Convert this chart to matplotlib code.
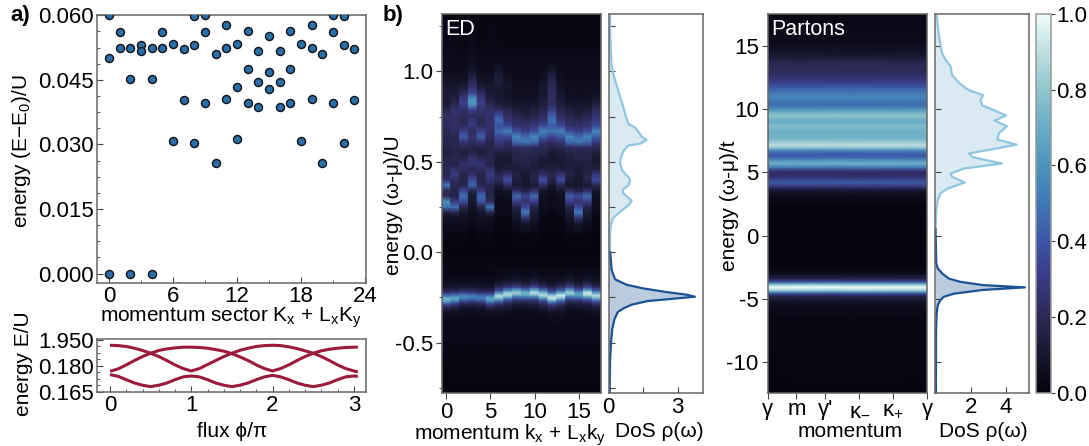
import numpy as np
import matplotlib
matplotlib.use("Agg")
import matplotlib.pyplot as plt
from matplotlib.colors import LinearSegmentedColormap, Normalize
from matplotlib.cm import ScalarMappable
from matplotlib.ticker import MultipleLocator, FixedLocator, FixedFormatter, NullFormatter

plt.rcParams['font.family'] = ['Liberation Sans', 'DejaVu Sans']
plt.rcParams['mathtext.fontset'] = 'custom'
plt.rcParams['mathtext.rm'] = 'Liberation Sans'
plt.rcParams['mathtext.default'] = 'rm'
plt.rcParams['axes.unicode_minus'] = False

# ---------- panel a: low-energy spectrum ----------
sector = [0, 0, 0, 1, 1, 2, 2, 2, 3, 3, 4, 4, 4, 5, 5, 6, 6, 7, 7, 8, 8, 8, 9, 9, 9,
          10, 10, 11, 11, 11, 12, 12, 12, 13, 13, 13, 14, 14, 14, 15, 15, 15,
          16, 16, 16, 17, 17, 17, 18, 18, 19, 19, 19, 20, 20, 21, 21, 21, 22, 22, 22, 23, 23]
gap_energy = [.0600, .0501, 0, .0561, .0525, .0525, .0451, -.0001, .0531, .0516, .0525, .0451, -.0001,
              .0561, .0525, .0533, .0309, .0522, .0404, .0598, .0530, .0303, .0600, .0561, .0396,
              .0510, .0257, .0577, .0523, .0406, .0534, .0434, .0312, .0564, .0475, .0396,
              .0516, .0444, .0386, .0553, .0468, .0428, .0516, .0444, .0386, .0564, .0475, .0396,
              .0533, .0309, .0577, .0523, .0406, .0510, .0257, .0600, .0561, .0396, .0598, .0530, .0303,
              .0522, .0404]

# ---------- panel a: flux spectrum ----------
flux = [0, .1, .2, .3, .4, .5, .6, .7, .8, .9, 1.0, 1.1, 1.2, 1.3, 1.4, 1.5, 1.6, 1.7, 1.8, 1.9,
        2.0, 2.1, 2.2, 2.3, 2.4, 2.5, 2.6, 2.7, 2.8, 2.9, 3.0, 3.05]
band_a = [.1917, .1915, .1910, .1900, .1887, .1871, .1852, .1829, .1804, .1783, .1769, .1783, .1806, .1829,
          .1852, .1871, .1888, .1900, .1910, .1915, .1917, .1915, .1908, .1898, .1885, .1871, .1852, .1829,
          .1804, .1783, .1769, .1764]
band_b = [.1767, .1781, .1804, .1829, .1852, .1871, .1887, .1896, .1902, .1906, .1906, .1904, .1900, .1892,
          .1883, .1869, .1850, .1829, .1804, .1783, .1769, .1783, .1804, .1829, .1852, .1871, .1885, .1894,
          .1900, .1904, .1906, .1906]
band_c = [.1748, .1738, .1719, .1700, .1687, .1679, .1687, .1700, .1719, .1735, .1740, .1735, .1719, .1700,
          .1687, .1679, .1687, .1700, .1719, .1735, .1744, .1735, .1719, .1700, .1687, .1679, .1687, .1700,
          .1719, .1735, .1740, .1738]
flux_ytick_values = [.165, .180, .195]
flux_ytick_labels = ['0.165', '0.180', '1.950']

# ---------- panel b: ED spectral function (percent of max), one row per energy ----------
ed_energy = [-.78, -.40, -.34, -.32, -.30, -.285, -.27, -.255, -.24, -.225, -.21, -.195, -.18, -.16, -.13, -.08,
             0.0, .10, .16, .19, .22, .25, .28, .31, .34, .37, .40, .43, .46, .49, .52, .55, .58, .61, .64, .67,
             .70, .73, .76, .79, .82, .85, .88, .92, .96, 1.0, 1.05, 1.15, 1.32]
ed_intensity = [
    [1, 1, 1, 1, 1, 1, 1, 1, 1, 1, 1, 1, 1, 1, 1, 1, 1, 1],
    [3, 3, 3, 3, 3, 3, 3, 3, 3, 3, 3, 3, 3, 3, 3, 3, 3, 3],
    [6, 6, 5, 5, 5, 6, 6, 5, 4, 4, 4, 5, 7, 6, 4, 4, 5, 5],
    [11, 9, 7, 6, 7, 10, 9, 8, 6, 6, 6, 8, 11, 10, 6, 6, 8, 9],
    [23, 18, 12, 11, 13, 20, 16, 13, 9, 9, 10, 14, 22, 16, 9, 10, 11, 15],
    [40, 30, 19, 18, 20, 34, 26, 19, 14, 14, 14, 21, 35, 25, 14, 15, 17, 23],
    [66, 52, 34, 31, 36, 57, 45, 30, 22, 22, 23, 33, 62, 43, 22, 23, 28, 41],
    [73, 70, 54, 50, 53, 69, 75, 52, 37, 38, 39, 59, 92, 72, 37, 41, 48, 68],
    [49, 55, 57, 52, 48, 50, 89, 83, 63, 63, 67, 87, 84, 95, 63, 64, 80, 90],
    [28, 32, 37, 34, 30, 29, 62, 85, 85, 74, 90, 79, 51, 72, 85, 66, 94, 68],
    [17, 19, 22, 20, 17, 18, 36, 54, 67, 52, 71, 49, 29, 43, 67, 42, 66, 41],
    [11, 12, 13, 12, 11, 11, 22, 32, 39, 30, 41, 28, 19, 25, 39, 25, 38, 23],
    [8, 8, 8, 8, 7, 7, 14, 18, 22, 17, 23, 16, 11, 15, 22, 14, 22, 14],
    [5, 5, 5, 5, 5, 5, 8, 10, 12, 10, 13, 9, 7, 9, 12, 8, 12, 9],
    [3, 3, 3, 3, 3, 3, 4, 5, 6, 5, 6, 5, 4, 5, 6, 4, 6, 5],
    [2, 2, 2, 2, 2, 2, 2, 2, 2, 2, 2, 2, 2, 2, 2, 2, 2, 2],
    [1, 1, 1, 1, 1, 1, 1, 1, 1, 1, 1, 1, 1, 1, 1, 1, 1, 1],
    [2, 2, 2, 1, 2, 2, 1, 1, 2, 2, 2, 1, 1, 1, 2, 2, 2, 1],
    [5, 5, 5, 4, 5, 5, 2, 2, 6, 10, 6, 2, 2, 2, 6, 10, 6, 2],
    [7, 7, 6, 5, 6, 7, 2, 2, 10, 24, 10, 2, 2, 2, 10, 26, 10, 2],
    [14, 17, 10, 6, 10, 17, 4, 4, 12, 50, 12, 4, 2, 4, 12, 50, 12, 4],
    [48, 48, 18, 8, 18, 50, 4, 4, 17, 36, 17, 5, 4, 5, 17, 36, 17, 5],
    [60, 30, 36, 10, 38, 22, 5, 5, 30, 26, 30, 6, 5, 6, 30, 26, 31, 6],
    [22, 18, 48, 12, 46, 17, 5, 6, 46, 34, 46, 6, 5, 6, 43, 36, 46, 6],
    [19, 17, 34, 17, 30, 17, 7, 10, 24, 17, 24, 10, 6, 10, 22, 17, 24, 10],
    [50, 19, 18, 43, 19, 18, 12, 22, 12, 10, 12, 22, 10, 19, 10, 10, 12, 19],
    [26, 22, 17, 36, 17, 26, 22, 38, 14, 10, 17, 38, 17, 36, 14, 10, 17, 36],
    [17, 29, 17, 24, 17, 29, 19, 26, 17, 12, 17, 24, 19, 26, 17, 12, 17, 29],
    [19, 24, 22, 19, 22, 24, 12, 14, 14, 14, 14, 14, 14, 14, 14, 12, 14, 14],
    [18, 17, 24, 26, 26, 17, 12, 12, 14, 17, 14, 12, 12, 12, 14, 14, 14, 12],
    [18, 18, 18, 26, 19, 18, 12, 12, 17, 17, 17, 12, 10, 12, 14, 17, 17, 12],
    [14, 17, 14, 17, 14, 17, 14, 14, 17, 19, 17, 17, 12, 14, 17, 17, 17, 14],
    [17, 17, 19, 17, 17, 17, 22, 19, 22, 24, 22, 19, 17, 19, 22, 22, 22, 19],
    [17, 19, 26, 22, 26, 17, 29, 24, 46, 50, 46, 26, 24, 26, 46, 50, 46, 29],
    [19, 19, 43, 26, 43, 22, 34, 36, 55, 46, 55, 43, 34, 41, 55, 46, 55, 43],
    [19, 22, 31, 22, 31, 24, 46, 53, 36, 31, 36, 55, 50, 53, 36, 31, 36, 55],
    [22, 24, 22, 29, 22, 24, 38, 34, 26, 24, 29, 36, 41, 34, 24, 24, 26, 36],
    [22, 22, 19, 26, 19, 24, 46, 26, 22, 19, 22, 24, 48, 26, 22, 19, 22, 29],
    [22, 24, 22, 22, 24, 26, 36, 22, 17, 14, 17, 22, 41, 22, 17, 14, 17, 26],
    [17, 24, 24, 34, 24, 24, 22, 17, 14, 12, 14, 17, 29, 17, 14, 12, 14, 22],
    [12, 19, 31, 62, 31, 19, 14, 12, 10, 10, 10, 14, 22, 14, 10, 10, 10, 14],
    [12, 14, 29, 58, 29, 14, 10, 10, 7, 7, 7, 12, 22, 12, 7, 7, 7, 10],
    [12, 12, 19, 34, 22, 12, 10, 7, 6, 6, 6, 10, 22, 10, 6, 6, 6, 7],
    [10, 10, 12, 24, 12, 10, 12, 10, 6, 6, 6, 10, 19, 7, 6, 5, 6, 6],
    [7, 7, 7, 17, 7, 7, 14, 7, 5, 5, 5, 7, 17, 6, 5, 5, 5, 5],
    [5, 5, 5, 10, 5, 5, 10, 5, 4, 4, 4, 5, 10, 5, 4, 4, 4, 4],
    [4, 4, 4, 6, 4, 4, 5, 4, 4, 4, 4, 4, 5, 4, 4, 4, 4, 4],
    [3, 3, 2, 3, 2, 3, 2, 2, 2, 2, 2, 2, 2, 2, 2, 2, 2, 2],
    [2, 2, 2, 2, 2, 2, 2, 2, 2, 2, 2, 2, 2, 2, 2, 2, 2, 2],
]

# ---------- ED density of states ----------
ed_up_energy = [0, .05, .08, .12, .155, .19, .23, .26, .285, .30, .33, .35, .37, .40, .415, .45, .49, .52, .56,
                .59, .60, .62, .64, .66, .69, .71, .75, .80, .88, .97, 1.03, 1.12, 1.21, 1.32]
ed_up_dos = [.06, .06, .06, .06, .10, .20, .56, .86, 1.0, .86, .60, .64, .86, .93, .86, .60, .49, .52, .64,
             .86, 1.36, 1.65, 1.43, 1.33, 1.14, .86, .75, .64, .45, .23, .13, .09, .07, .06]
ed_low_energy = [-.78, -.60, -.50, -.42, -.37, -.33, -.31, -.29, -.27, -.255, -.246, -.235, -.22, -.20, -.18,
                 -.15, -.10, -.05, 0]
ed_low_dos = [.04, .06, .10, .16, .25, .40, .65, 1.0, 1.7, 3.0, 3.75, 3.4, 2.5, 1.5, .78, .28, .13, .10, .06]

# ---------- parton density of states ----------
parton_energy = [-12.5, -7.5, -6.2, -5.5, -5.1, -4.84, -4.6, -4.3, -4.1, -3.92, -3.66, -3.4, -3.0, -2.6, -2.2, 0.5,
                 2.0, 2.8, 3.35, 3.7, 4.2, 4.65, 4.9, 5.3, 5.7, 6.2, 6.5, 6.9, 7.2, 7.6, 8.1, 8.65, 9.1, 9.5, 10.05,
                 10.3, 10.7, 11.1, 11.5, 12.0, 12.7, 13.4, 13.9, 14.4, 15.5, 16.5, 17.53]
parton_dos = [.02, .03, .06, .13, .28, .47, 1.04, 2.7, 5.07, 2.7, 1.4, .75, .38, .13, .04, 0,
              .04, .13, .28, .66, 1.66, .94, .85, 1.6, 3.77, 2.1, 1.9, 3.5, 4.6, 3.5, 3.6, 4.05, 3.34, 4.0, 3.1,
              2.64, 2.55, 2.7, 1.9, 1.4, .94, .85, .57, .38, .23, .13, .06]

# ---------- parton spectral map: one value per energy, same at every momentum ----------
parton_map_energy = [-12.5, -6.5, -5.5, -5.1, -4.8, -4.6, -4.45, -4.3, -4.1, -3.9, -3.75, -3.6, -3.4, -3, -2.5, 0,
                     2.5, 3.2, 3.6, 3.9, 4.2, 4.6, 4.9, 5.15, 5.4, 5.7, 6.0, 6.25, 6.5, 6.8, 7.0, 7.2, 7.35, 7.6,
                     7.9, 8.3, 8.65, 9.0, 9.2, 9.5, 9.8, 10.1, 10.4, 10.8, 11.1, 11.7, 12.2, 12.7, 13.2, 13.6, 14,
                     14.5, 15.5, 17.53]
parton_map_value = [.01, .02, .05, .10, .17, .33, .60, .85, 1.0, .85, .60, .33, .17, .05, .01, .005,
                    .015, .05, .12, .28, .42, .27, .22, .28, .50, .72, .58, .42, .42, .62, .82, .90, .84, .75,
                    .72, .72, .77, .70, .72, .80, .70, .55, .46, .53, .55, .42, .30, .24, .20, .20, .14,
                    .08, .04, .02]
momentum_ticks = [0, .18, .362, .576, .787, 1]
momentum_labels = ['γ', 'm', "γ'", 'κ$_{-}$', 'κ$_{+}$', 'γ']

ICE = LinearSegmentedColormap.from_list('ice_like', [
    '#04040f', '#17172e', '#2c2a55', '#3a3a85', '#3d55a6', '#3f78b6',
    '#4b93bd', '#68acc5', '#8ec5cd', '#bfdfe0', '#ecfcfa'])
NORM = Normalize(0, 1)

W, H = 1089, 446
FS = 15
TICK_FS = 16
SPINE = '#666666'


def make_axes(left, top, right, bottom):
    ax = fig.add_axes([left / W, 1 - bottom / H, (right - left) / W, (bottom - top) / H])
    for s in ax.spines.values():
        s.set_color(SPINE)
        s.set_linewidth(1.1)
    return ax


def style_ticks(ax, direction):
    ax.tick_params(which='major', direction=direction, length=4, width=0.8, color='#444444',
                   labelsize=TICK_FS, pad=2.5)
    ax.tick_params(which='minor', direction=direction, length=2.5, width=0.7, color='#555555')


def ylabel(ax, text, x, y):
    ax.set_ylabel(text, fontsize=FS)
    ax.yaxis.set_label_coords(x / W, 1 - y / H, transform=fig.transFigure)


def xlabel(ax, text, x, y):
    ax.set_xlabel(text, fontsize=FS)
    ax.xaxis.set_label_coords(x / W, 1 - y / H, transform=fig.transFigure)


def blocky_map(ax, x_edges, energy, table):
    xs = np.repeat(x_edges, 2)[1:-1]
    table = np.repeat(np.asarray(table, float), 2, axis=1)
    X, Y = np.meshgrid(xs, energy)
    ax.pcolormesh(X, Y, table, shading='gouraud', cmap=ICE, norm=NORM, rasterized=True)


fig = plt.figure(figsize=(W / 100, H / 100), dpi=100, facecolor='white')

# panel a, top
ax = make_axes(97, 15.3, 366, 283)
ax.scatter(sector, gap_energy, s=33, c='#2a6fa9', edgecolors='#10151c', linewidths=1.05, zorder=3)
ax.set_xlim(-1.13, 24.1)
ax.set_ylim(-.0022, .06)
ax.xaxis.set_major_locator(MultipleLocator(6))
ax.xaxis.set_minor_locator(MultipleLocator(3))
ax.yaxis.set_major_locator(MultipleLocator(.015))
ax.yaxis.set_minor_locator(MultipleLocator(.00375))
ax.yaxis.set_major_formatter(lambda v, p: f'{v:.3f}')
style_ticks(ax, 'in')
ylabel(ax, 'energy (E−E$_0$)/U', 33, 151)
xlabel(ax, 'momentum sector K$_x$ + L$_x$K$_y$', 231, 306)

# panel a, bottom
ax = make_axes(97, 339, 366, 392)
for band in (band_a, band_b, band_c):
    ax.plot(flux, band, color='#9c1a3c', lw=2.2, solid_capstyle='butt')
ax.set_xlim(-.16, 3.15)
ax.set_ylim(.1648, .1953)
ax.xaxis.set_major_locator(MultipleLocator(1))
ax.xaxis.set_minor_locator(MultipleLocator(.2))
ax.yaxis.set_major_locator(FixedLocator(flux_ytick_values))
ax.yaxis.set_major_formatter(FixedFormatter(flux_ytick_labels))
ax.yaxis.set_minor_locator(MultipleLocator(.00375))
style_ticks(ax, 'in')
ylabel(ax, 'energy E/U', 33, 364)
xlabel(ax, 'flux ϕ/π', 232, 422)

# ED map
ax = make_axes(441.8, 14, 601, 393.3)
blocky_map(ax, np.arange(-.5, 18), ed_energy, np.array(ed_intensity) / 100)
ax.set_xlim(-.5, 17.5)
ax.set_ylim(-.78, 1.317)
ax.xaxis.set_major_locator(MultipleLocator(5))
ax.yaxis.set_major_locator(MultipleLocator(.5))
ax.yaxis.set_minor_locator(MultipleLocator(.25))
style_ticks(ax, 'out')
ylabel(ax, 'energy (ω-μ)/U', 403, 205)
xlabel(ax, 'momentum k$_x$ + L$_x$k$_y$', 510, 422)
ax.text(.02, .988, 'ED', transform=ax.transAxes, color='white', fontsize=15.5, va='top', ha='left')

# ED DoS
ax = make_axes(608.7, 14, 702.7, 393.3)
ax.fill_betweenx(ed_up_energy, 0, ed_up_dos, color='#d9eaf3', lw=0)
ax.fill_betweenx(ed_low_energy, 0, ed_low_dos, color='#b9cbdd', lw=0)
ax.plot(ed_up_dos, ed_up_energy, color='#8fc6e0', lw=1.6)
ax.plot(ed_low_dos, ed_low_energy, color='#1b5394', lw=1.6)
ax.set_xlim(0, 4.09)
ax.set_ylim(-.78, 1.317)
ax.xaxis.set_major_locator(FixedLocator([0, 1.5, 3]))
ax.xaxis.set_major_formatter(FixedFormatter(['0', '', '3']))
ax.yaxis.set_major_locator(MultipleLocator(.25))
ax.yaxis.set_major_formatter(NullFormatter())
style_ticks(ax, 'in')
xlabel(ax, 'DoS ρ(ω)', 659, 422)

# Partons map
ax = make_axes(767.7, 14, 927, 393.3)
parton_table = np.column_stack([parton_map_value] * 2)
X, Y = np.meshgrid([0, 1], parton_map_energy)
ax.pcolormesh(X, Y, parton_table, shading='gouraud', cmap=ICE, norm=NORM, rasterized=True)
ax.set_xlim(0, 1)
ax.set_ylim(-12.48, 17.53)
ax.xaxis.set_major_locator(FixedLocator(momentum_ticks))
ax.xaxis.set_major_formatter(NullFormatter())
ax.yaxis.set_major_locator(MultipleLocator(5))
style_ticks(ax, 'out')
for pos, lab in zip(momentum_ticks, momentum_labels):
    ax.text(pos, -.0575, lab, transform=ax.get_xaxis_transform(), fontsize=TICK_FS,
            ha='center', va='baseline')
ylabel(ax, 'energy (ω-μ)/t', 739, 206)
xlabel(ax, 'momentum', 850, 422)
ax.text(.025, .988, 'Partons', transform=ax.transAxes, color='white', fontsize=15.5, va='top', ha='left')

# Partons DoS
pe, pd = np.array(parton_energy), np.array(parton_dos)
up = pe >= .5
low = pe <= .5
ax = make_axes(935, 14, 1029.3, 393.3)
ax.fill_betweenx(pe[up], 0, pd[up], color='#d9eaf3', lw=0)
ax.fill_betweenx(pe[low], 0, pd[low], color='#b9cbdd', lw=0)
ax.plot(pd[up], pe[up], color='#8fc6e0', lw=1.6)
ax.plot(pd[low], pe[low], color='#1b5394', lw=1.6)
ax.set_xlim(-.03, 5.32)
ax.set_ylim(-12.48, 17.53)
ax.xaxis.set_major_locator(MultipleLocator(2))
ax.xaxis.set_major_formatter(lambda v, p: f'{v:.0f}' if v > 0 else '')
ax.yaxis.set_major_locator(MultipleLocator(5))
ax.yaxis.set_major_formatter(NullFormatter())
style_ticks(ax, 'in')
xlabel(ax, 'DoS ρ(ω)', 983, 422)

# colour bar
cax = make_axes(1036, 14, 1050.5, 392.7)
cb = fig.colorbar(ScalarMappable(norm=NORM, cmap=ICE), cax=cax)
cb.outline.set_edgecolor('#999999')
cb.outline.set_linewidth(1.1)
cb.set_ticks(np.arange(0, 1.01, .2))
cax.tick_params(direction='out', length=3, width=0.8, color='#444444', labelsize=TICK_FS, pad=1)

fig.text(10 / W, 1 - 16 / H, 'a)', fontsize=16, fontweight='bold', va='center', ha='left')
fig.text(383 / W, 1 - 16 / H, 'b)', fontsize=16, fontweight='bold', va='center', ha='left')

fig.savefig('out.png', dpi=100)
